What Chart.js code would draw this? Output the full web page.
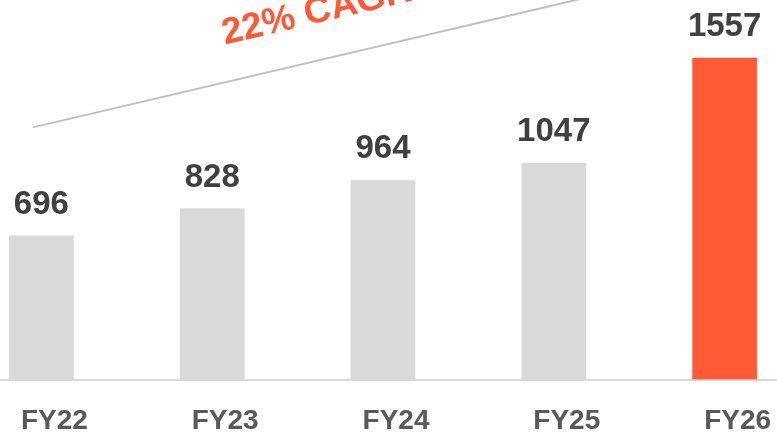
<!DOCTYPE html>
<html>
<head>
<meta charset="utf-8">
<script src="https://cdn.jsdelivr.net/npm/chart.js@4.4.1/dist/chart.umd.min.js"></script>
<style>
    html, body { margin: 0; padding: 0; background: #ffffff; overflow: hidden; }
    body { width: 777px; height: 435px; position: relative; }
    #wrap { position: absolute; left: -44px; top: 0; width: 854px; height: 435px; }
</style>
</head>
<body>
<div id="wrap"><canvas id="revenueChart"></canvas></div>
<script>
const years = ['FY22', 'FY23', 'FY24', 'FY25', 'FY26'];
const revenue = [696, 828, 964, 1047, 1557];
const barColors = ['#d9d9d9', '#d9d9d9', '#d9d9d9', '#d9d9d9', '#ff5a35'];
const yMax = 1838;

// CAGR annotation, in data units (x = category index, y = value)
const cagrText = '22% CAGR';
const cagrLineFrom = { x: -0.05, y: 1221 };
const cagrLineTo = { x: 3.13, y: 1838 };
const cagrTextAt = { x: 1.075, y: 1622 };

const FONT = "'Liberation Sans', Arial, sans-serif";

const valueLabels = {
    id: 'valueLabels',
    afterDatasetsDraw(chart) {
        const ctx = chart.ctx;
        const meta = chart.getDatasetMeta(0);
        ctx.save();
        ctx.font = `bold 33px ${FONT}`;
        ctx.fillStyle = '#404040';
        ctx.textAlign = 'center';
        ctx.textBaseline = 'alphabetic';
        meta.data.forEach((bar, i) => {
            ctx.fillText(String(revenue[i]), bar.x, bar.y - 22);
        });
        ctx.restore();
    }
};

const cagrNote = {
    id: 'cagrNote',
    afterDraw(chart) {
        const { ctx, scales: { x, y } } = chart;
        const x1 = x.getPixelForValue(cagrLineFrom.x), y1 = y.getPixelForValue(cagrLineFrom.y);
        const x2 = x.getPixelForValue(cagrLineTo.x), y2 = y.getPixelForValue(cagrLineTo.y);
        const angle = Math.atan2(y2 - y1, x2 - x1);

        ctx.save();
        ctx.strokeStyle = '#bfbfbf';
        ctx.lineWidth = 2;
        ctx.beginPath();
        ctx.moveTo(x1, y1);
        ctx.lineTo(x2 + (x2 - x1) * 0.05, y2 + (y2 - y1) * 0.05);
        ctx.stroke();

        ctx.translate(x.getPixelForValue(cagrTextAt.x), y.getPixelForValue(cagrTextAt.y));
        ctx.rotate(angle);
        ctx.font = `bold 37px ${FONT}`;
        ctx.fillStyle = '#ff5a35';
        ctx.textAlign = 'left';
        ctx.textBaseline = 'alphabetic';
        ctx.fillText(cagrText, 0, 0);
        ctx.restore();
    }
};

new Chart(document.getElementById('revenueChart'), {
    type: 'bar',
    data: {
        labels: years,
        datasets: [{
            data: revenue,
            backgroundColor: barColors,
            barThickness: 64
        }]
    },
    options: {
        responsive: true,
        maintainAspectRatio: false,
        animation: false,
        layout: { padding: 0 },
        plugins: {
            legend: { display: false },
            tooltip: { enabled: false }
        },
        scales: {
            x: {
                grid: { display: false, drawTicks: false },
                border: { display: true, color: '#d9d9d9', width: 2 },
                ticks: {
                    color: '#595959',
                    font: { family: FONT, size: 28, weight: 'bold' },
                    padding: 25,
                    labelOffset: 13,
                    maxRotation: 0
                },
                afterFit(axis) { axis.height = 55.5; }
            },
            y: {
                display: false,
                min: 0,
                max: yMax
            }
        }
    },
    plugins: [valueLabels, cagrNote]
});
</script>
</body>
</html>
